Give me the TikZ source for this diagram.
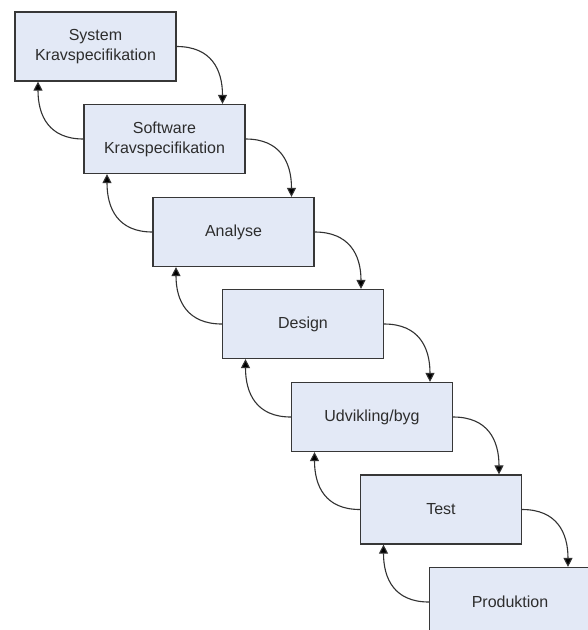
\documentclass[tikz,border=0pt]{standalone}
\usepackage{fontspec}
\setmainfont{Liberation Sans}
\usetikzlibrary{arrows.meta}
\definecolor{boxfill}{RGB}{227,233,246}
\definecolor{boxline}{RGB}{55,55,55}
\definecolor{linegray}{RGB}{50,50,50}
\definecolor{textgray}{RGB}{45,45,45}
\begin{document}
\begin{tikzpicture}[x=1pt,y=1pt,
  stage/.style={draw=boxline, fill=boxfill, line width=1.2pt,
    minimum width=161pt, minimum height=69pt, inner sep=0pt,
    align=center, text=textgray, font=\fontsize{16}{20}\selectfont},
  flow/.style={draw=linegray, line width=1.1pt,
    -{Triangle[length=9pt,width=9pt,fill=black]}}]
\path[use as bounding box, clip] (0,0) rectangle (588,-630);
\fill[white] (0,0) rectangle (588,-630);

% the stages of the waterfall, stepping down to the right
\node[stage] (s1) at (95.5,-46.5) {System\\Kravspecifikation};
\node[stage] (s2) at (164.5,-139) {Software\\Kravspecifikation};
\node[stage] (s3) at (233.5,-232) {Analyse};
\node[stage] (s4) at (303,-324) {Design};
\node[stage] (s5) at (372,-417) {Udvikling/byg};
\node[stage] (s6) at (441,-509.5) {Test};
\node[stage] (s7) at (510,-602) {Produktion};

% forward flow: right side down into the next stage
\foreach \a/\b in {s1/s2,s2/s3,s3/s4,s4/s5,s5/s6,s6/s7}
  \draw[flow] (\a.east) to[out=0,in=90,looseness=1.2] ([xshift=58pt]\b.north);

% feedback: left side back up into the previous stage
\foreach \a/\b in {s2/s1,s3/s2,s4/s3,s5/s4,s6/s5,s7/s6}
  \draw[flow] (\a.west) to[out=180,in=-90,looseness=1.2] ([xshift=-57.5pt]\b.south);
\end{tikzpicture}
\end{document}
